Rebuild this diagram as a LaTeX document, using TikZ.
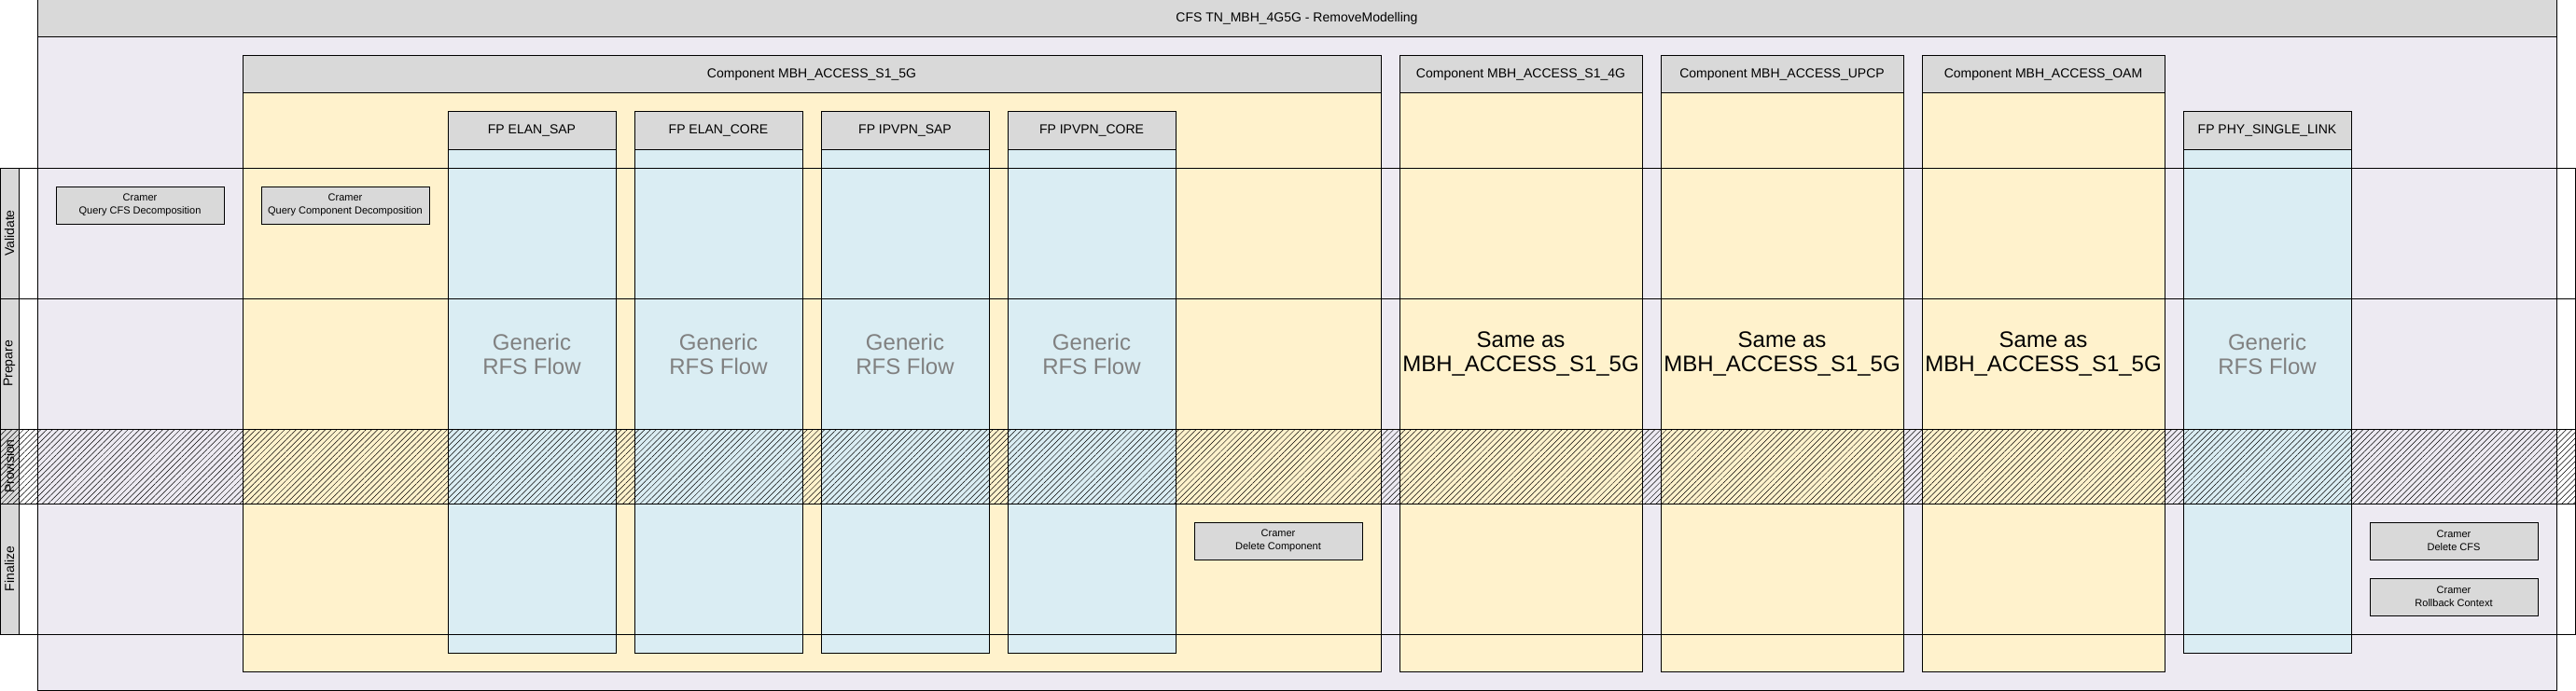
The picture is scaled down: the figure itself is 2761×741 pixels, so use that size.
\documentclass[tikz,border=0pt]{standalone}
\usepackage{fontspec}
\setmainfont{Liberation Sans}
\usetikzlibrary{positioning}
\usetikzlibrary{patterns.meta}
\usepackage{xcolor}
\definecolor{headgray}{HTML}{D9D9D9}
\definecolor{cfsfill}{HTML}{EDEAF2}
\definecolor{compfill}{HTML}{FFF2CC}
\definecolor{fpfill}{HTML}{DAEDF3}
\definecolor{rfsgray}{HTML}{808080}

\begin{document}
\begin{tikzpicture}[x=1pt, y=-1pt, node distance=20pt,
    box/.style={draw, line width=1pt, inner sep=0pt, outer sep=0pt, anchor=north west},
    head/.style={box, fill=headgray, minimum height=40pt, font=\fontsize{14}{16}\selectfont},
    comp/.style={box, fill=compfill, minimum height=620pt},
    fp/.style={box, fill=fpfill, minimum width=180pt, minimum height=540pt},
    cramer/.style={box, fill=headgray, minimum width=180pt, minimum height=40pt, align=center, font=\fontsize{11}{14}\selectfont},
    rfs/.style={text=rfsgray, align=center, font=\fontsize{24}{26}\selectfont},
    same/.style={align=center, font=\fontsize{24}{26}\selectfont},
    lanelbl/.style={draw, line width=1pt, fill=headgray, rotate=90, minimum height=20pt, inner sep=0pt, outer sep=0pt, font=\fontsize{14}{16}\selectfont},
    lane/.style={box, minimum width=2740pt},
    hatch/.style={pattern={Lines[angle=45, distance=4.4pt, line width=0.5pt]}, pattern color=black}]
    \useasboundingbox (0,0) rectangle (2761,741);

    % CFS
    \node[head, minimum width=2700pt] (cfs-h) at (40,0) {CFS TN\_MBH\_4G5G - RemoveModelling};
    \node[box, fill=cfsfill, minimum width=2700pt, minimum height=700pt, below=0pt of cfs-h] (cfs) {};

    % components
    \node[head, minimum width=1220pt] (s15g-h) at (260,60) {Component MBH\_ACCESS\_S1\_5G};
    \node[comp, minimum width=1220pt, below=0pt of s15g-h] (s15g) {};
    \node[head, minimum width=260pt, right=of s15g-h] (s14g-h) {Component MBH\_ACCESS\_S1\_4G};
    \node[comp, minimum width=260pt, below=0pt of s14g-h] (s14g) {};
    \node[head, minimum width=260pt, right=of s14g-h] (upcp-h) {Component MBH\_ACCESS\_UPCP};
    \node[comp, minimum width=260pt, below=0pt of upcp-h] (upcp) {};
    \node[head, minimum width=260pt, right=of upcp-h] (oam-h) {Component MBH\_ACCESS\_OAM};
    \node[comp, minimum width=260pt, below=0pt of oam-h] (oam) {};

    % FPs
    \node[head, minimum width=180pt] (elansap-h) at (480,120) {FP ELAN\_SAP};
    \node[fp, below=0pt of elansap-h] (elansap) {};
    \node[head, minimum width=180pt, right=of elansap-h] (elancore-h) {FP ELAN\_CORE};
    \node[fp, below=0pt of elancore-h] (elancore) {};
    \node[head, minimum width=180pt, right=of elancore-h] (ipvpnsap-h) {FP IPVPN\_SAP};
    \node[fp, below=0pt of ipvpnsap-h] (ipvpnsap) {};
    \node[head, minimum width=180pt, right=of ipvpnsap-h] (ipvpncore-h) {FP IPVPN\_CORE};
    \node[fp, below=0pt of ipvpncore-h] (ipvpncore) {};
    \node[head, minimum width=180pt] (phy-h) at (2340,120) {FP PHY\_SINGLE\_LINK};
    \node[fp, below=0pt of phy-h] (phy) {};

    \node[rfs] (elansap-t) at (570,380) {Generic\\RFS Flow};
    \node[rfs] (elancore-t) at (770,380) {Generic\\RFS Flow};
    \node[rfs] (ipvpnsap-t) at (970,380) {Generic\\RFS Flow};
    \node[rfs] (ipvpncore-t) at (1170,380) {Generic\\RFS Flow};
    \node[rfs] (phy-t) at (2430,380) {Generic\\RFS Flow};
    \node[same] (s14g-t) at (1630,380) {Same as\\MBH\_ACCESS\_S1\_5G};
    \node[same] (upcp-t) at (1910,380) {Same as\\MBH\_ACCESS\_S1\_5G};
    \node[same] (oam-t) at (2190,380) {Same as\\MBH\_ACCESS\_S1\_5G};

    % Cramer steps
    \node[cramer] (qcfs) at (60,200) {Cramer\\Query CFS Decomposition};
    \node[cramer] (qcomp) at (280,200) {Cramer\\Query Component Decomposition};
    \node[cramer] (delcomp) at (1280,560) {Cramer\\Delete Component};
    \node[cramer] (delcfs) at (2540,560) {Cramer\\Delete CFS};
    \node[cramer, below=of delcfs] (rollback) {Cramer\\Rollback Context};

    % lanes
    \node[lanelbl, minimum width=140pt] (validate) at (10,250) {Validate};
    \node[lane, minimum height=140pt] (validate-l) at (20,180) {};
    \node[lanelbl, minimum width=140pt] (prepare) at (10,390) {Prepare};
    \node[lane, minimum height=140pt] (prepare-l) at (20,320) {};
    \node[lanelbl, minimum width=80pt, postaction={hatch}] (provision) at (10,500) {Provision};
    \node[lane, minimum height=80pt, hatch] (provision-l) at (20,460) {};
    \node[lanelbl, minimum width=140pt] (finalize) at (10,610) {Finalize};
    \node[lane, minimum height=140pt] (finalize-l) at (20,540) {};
\end{tikzpicture}
\end{document}
